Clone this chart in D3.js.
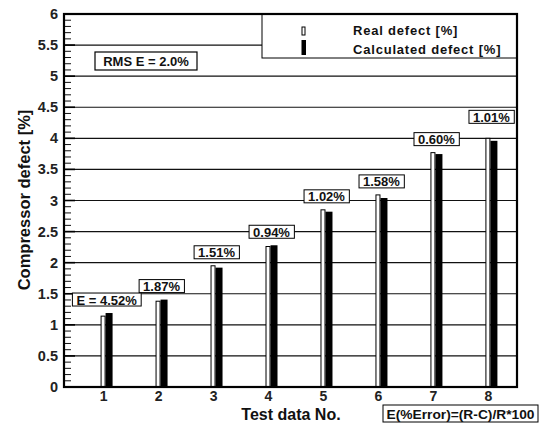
<!DOCTYPE html>
<html>
<head>
<meta charset="utf-8">
<script src="https://cdn.jsdelivr.net/npm/d3@7"></script>
<style>
  html, body { margin: 0; padding: 0; background: #fff; }
  svg { display: block; font-family: "Liberation Sans", Arial, sans-serif; }
</style>
</head>
<body>
<svg id="chart" width="539" height="426"></svg>
<script>
// Test data numbers
const testNo = [1, 2, 3, 4, 5, 6, 7, 8];
// Real and calculated compressor defect [%]
const realDefect = [1.14, 1.38, 1.95, 2.26, 2.85, 3.09, 3.77, 4.00];
const calcDefect = [1.19, 1.406, 1.92, 2.28, 2.82, 3.04, 3.747, 3.96];
// Error label for each test
const errorLabels = ["E = 4.52%", "1.87%", "1.51%", "0.94%", "1.02%", "1.58%", "0.60%", "1.01%"];
// Y axis tick values
const yTicks = [0, 0.5, 1, 1.5, 2, 2.5, 3, 3.5, 4, 4.5, 5, 5.5, 6];
const yTickLabels = ["0", "0.5", "1", "1.5", "2", "2.5", "3", "3.5", "4", "4.5", "5", "5.5", "6"];

const svg = d3.select("#chart");
const L = 64, R = 517, T = 14, B = 387;

const x = d3.scaleLinear().domain([0.28, 8.52]).range([L, R]);
const y = d3.scaleLinear().domain([0, 6]).range([B, T]);

// horizontal grid lines
svg.append("g").selectAll("line")
  .data(yTicks.filter(v => v > 0 && v < 6))
  .join("line")
  .attr("x1", L).attr("x2", R)
  .attr("y1", d => y(d)).attr("y2", d => y(d))
  .attr("stroke", "#111").attr("stroke-width", 1.1);

// minor / major ticks on the left axis (inward)
const minor = d3.range(0, 60).map(i => i / 10).filter(v => Math.round(v * 10) % 5 !== 0);
svg.append("g").selectAll("line")
  .data(minor)
  .join("line")
  .attr("x1", L).attr("x2", L + 7)
  .attr("y1", d => y(d)).attr("y2", d => y(d))
  .attr("stroke", "#111").attr("stroke-width", 1);
svg.append("g").selectAll("line")
  .data(yTicks)
  .join("line")
  .attr("x1", L).attr("x2", L + 11)
  .attr("y1", d => y(d)).attr("y2", d => y(d))
  .attr("stroke", "#000").attr("stroke-width", 1.6);

// y tick labels
svg.append("g").selectAll("text")
  .data(yTicks)
  .join("text")
  .attr("x", L - 6).attr("y", d => y(d) + 5)
  .attr("text-anchor", "end")
  .attr("font-size", 14.5)
  .attr("font-weight", "bold")
  .attr("fill", "#222")
  .text((d, i) => yTickLabels[i]);

// x tick labels
svg.append("g").selectAll("text")
  .data(testNo)
  .join("text")
  .attr("x", d => x(d)).attr("y", 400.5)
  .attr("text-anchor", "middle")
  .attr("font-size", 14)
  .attr("font-weight", "bold")
  .attr("fill", "#222")
  .text(d => d);

// bars: real (white, outlined) and calculated (black)
const bars = svg.append("g");
bars.selectAll("rect.real")
  .data(testNo)
  .join("rect")
  .attr("class", "real")
  .attr("x", d => x(d) - 2.5).attr("width", 4)
  .attr("y", (d, i) => y(realDefect[i]))
  .attr("height", (d, i) => y(0) - y(realDefect[i]))
  .attr("fill", "#fff").attr("stroke", "#000").attr("stroke-width", 1);
bars.selectAll("rect.calc")
  .data(testNo)
  .join("rect")
  .attr("class", "calc")
  .attr("x", d => x(d) + 2).attr("width", 7)
  .attr("y", (d, i) => y(calcDefect[i]))
  .attr("height", (d, i) => y(0) - y(calcDefect[i]))
  .attr("fill", "#000");

// error label boxes above each bar pair
const lift = d => (d === 8 ? 15 : 7);
const labels = svg.append("g").selectAll("g")
  .data(testNo)
  .join("g")
  .attr("transform", (d, i) => {
    const top = y(Math.max(realDefect[i], calcDefect[i]));
    return `translate(${x(d) + 3},${top - lift(d) - 6.5})`;
  });
labels.append("text")
  .attr("text-anchor", "middle")
  .attr("y", 5)
  .attr("font-size", 13)
  .attr("font-weight", "bold")
  .attr("fill", "#111")
  .text((d, i) => errorLabels[i]);
labels.insert("rect", "text")
  .each(function () {
    const t = d3.select(this.parentNode).select("text").node().getBBox();
    d3.select(this)
      .attr("x", t.x - 4).attr("width", t.width + 8)
      .attr("y", -6.5).attr("height", 13);
  })
  .attr("fill", "#fff").attr("stroke", "#000").attr("stroke-width", 1);

// legend box (covers grid in the upper right)
const lg = svg.append("g");
lg.append("rect")
  .attr("x", 262).attr("y", T).attr("width", R - 262).attr("height", 58 - T)
  .attr("fill", "#fff").attr("stroke", "#000").attr("stroke-width", 1);
lg.append("rect")
  .attr("x", 302).attr("y", 27).attr("width", 3).attr("height", 8)
  .attr("fill", "#fff").attr("stroke", "#000").attr("stroke-width", 1);
lg.append("rect")
  .attr("x", 301.5).attr("y", 40).attr("width", 4.5).attr("height", 15)
  .attr("fill", "#000");
lg.append("text")
  .attr("x", 353).attr("y", 35)
  .attr("font-size", 13).attr("font-weight", "bold").attr("letter-spacing", 0.8)
  .attr("fill", "#111")
  .text("Real defect [%]");
lg.append("text")
  .attr("x", 353).attr("y", 53.5)
  .attr("font-size", 13).attr("font-weight", "bold").attr("letter-spacing", 0.8)
  .attr("fill", "#111")
  .text("Calculated defect [%]");

// RMS box
const rms = svg.append("g");
rms.append("rect")
  .attr("x", 95).attr("y", 52).attr("width", 102).attr("height", 18)
  .attr("fill", "#fff").attr("stroke", "#000").attr("stroke-width", 1.2);
rms.append("text")
  .attr("x", 146).attr("y", 66)
  .attr("text-anchor", "middle")
  .attr("font-size", 13).attr("font-weight", "bold").attr("fill", "#111")
  .text("RMS E = 2.0%");

// plot frame
svg.append("rect")
  .attr("x", L).attr("y", T).attr("width", R - L).attr("height", B - T)
  .attr("fill", "none").attr("stroke", "#000").attr("stroke-width", 2.2);

// axis titles
svg.append("text")
  .attr("transform", `translate(30,${(107 + 293) / 2}) rotate(-90)`)
  .attr("text-anchor", "middle")
  .attr("font-size", 16.5).attr("font-weight", "bold").attr("fill", "#111")
  .text("Compressor defect [%]");
svg.append("text")
  .attr("x", 291).attr("y", 420)
  .attr("text-anchor", "middle")
  .attr("font-size", 16).attr("font-weight", "bold").attr("fill", "#111")
  .text("Test data No.");

// error formula box
const fm = svg.append("g");
fm.append("rect")
  .attr("x", 383).attr("y", 405).attr("width", 155).attr("height", 17)
  .attr("fill", "#fff").attr("stroke", "#000").attr("stroke-width", 1);
fm.append("text")
  .attr("x", 460.5).attr("y", 418.5)
  .attr("text-anchor", "middle")
  .attr("font-size", 12.5).attr("font-weight", "bold").attr("fill", "#111")
  .attr("textLength", 148).attr("lengthAdjust", "spacingAndGlyphs")
  .text("E(%Error)=(R-C)/R*100");
</script>
</body>
</html>
